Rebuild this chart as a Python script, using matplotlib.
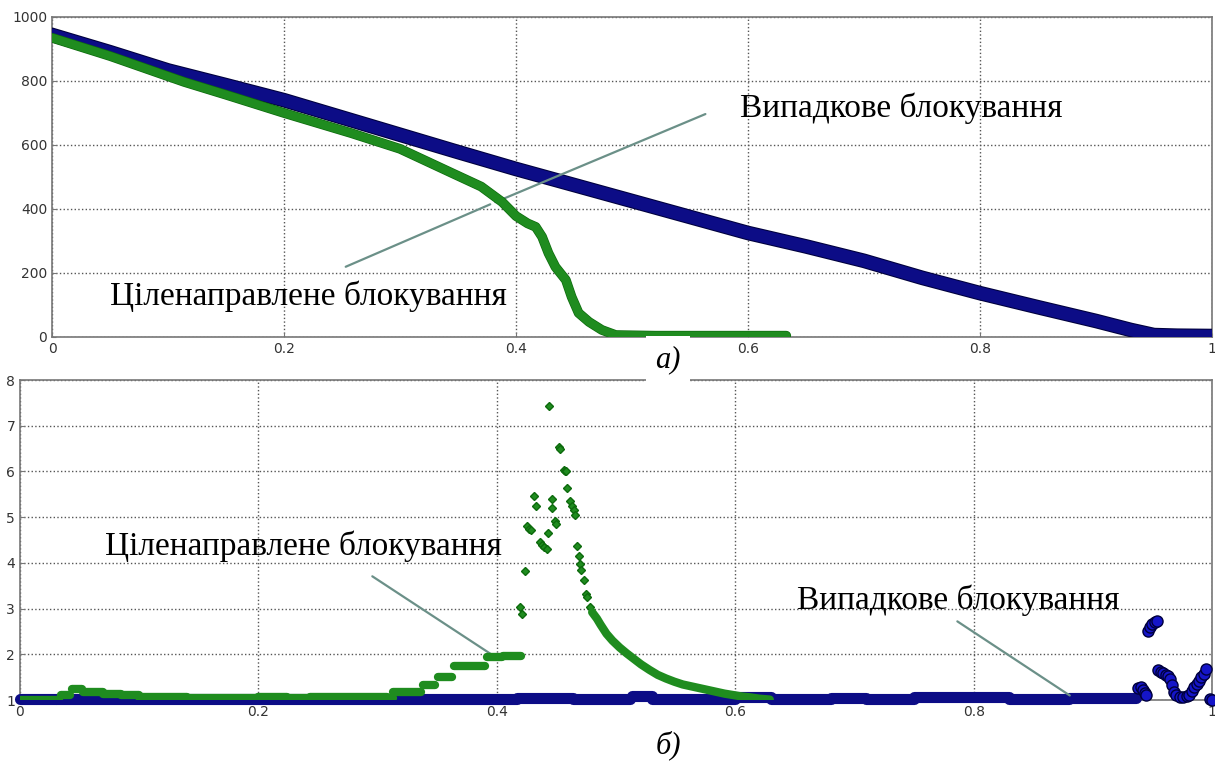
import matplotlib
matplotlib.use("Agg")
import matplotlib.pyplot as plt
import matplotlib.ticker as ticker
import matplotlib.patheffects as pe

# --- top panel (a): remaining size vs fraction of removed nodes ---
top_x_rand = [0.00, 0.05, 0.10, 0.15, 0.20, 0.25, 0.30, 0.35, 0.40, 0.45, 0.50, 0.55,
              0.60, 0.65, 0.70, 0.75, 0.80, 0.85, 0.90, 0.93, 0.95, 0.97, 1.00]
top_y_rand = [944, 890, 833, 787, 740, 686, 632, 578, 525, 475, 425, 375,
              325, 283, 238, 185, 137, 93, 50, 22, 6, 4, 3]

top_x_targ = [0.00, 0.05, 0.114, 0.15, 0.20, 0.258, 0.30, 0.345, 0.37, 0.388, 0.40, 0.41,
              0.417, 0.4225, 0.428, 0.434, 0.443, 0.448, 0.454, 0.463, 0.474, 0.486,
              0.52, 0.60, 0.633]
top_y_targ = [935, 878, 797, 757, 700, 637, 588, 512, 470, 422, 378, 355,
              344, 313, 262, 219, 178, 125, 75, 47, 22, 6,
              4, 4, 4]

# --- bottom panel (b) ---
# flat parts of the targeted series: (start, end, level)
bot_targ_x0 = [0.0, 0.034, 0.044, 0.053, 0.070, 0.085, 0.100, 0.140, 0.200, 0.224, 0.243,
               0.308, 0.313, 0.338, 0.351, 0.364, 0.392, 0.405]
bot_targ_x1 = [0.033, 0.042, 0.052, 0.070, 0.085, 0.100, 0.140, 0.200, 0.224, 0.243, 0.308,
               0.313, 0.336, 0.348, 0.362, 0.390, 0.404, 0.420]
bot_targ_lv = [1.01, 1.11, 1.24, 1.18, 1.13, 1.10, 1.07, 1.05, 1.07, 1.04, 1.07,
               1.04, 1.18, 1.33, 1.50, 1.75, 1.94, 1.97]

# burst of the targeted series
spike_x = [0.4195, 0.4215, 0.4235, 0.425, 0.427, 0.429, 0.431, 0.433, 0.436, 0.438, 0.440,
           0.442, 0.443, 0.444, 0.446, 0.4465, 0.449, 0.450, 0.452, 0.453, 0.456, 0.457,
           0.458, 0.459, 0.461, 0.463, 0.465, 0.466, 0.467, 0.469, 0.470, 0.471, 0.473,
           0.475, 0.476, 0.478]
spike_y = [3.03, 2.89, 3.83, 4.80, 4.75, 4.72, 5.46, 5.24, 4.45, 4.40, 4.35,
           4.30, 4.66, 7.43, 5.39, 5.20, 4.91, 4.85, 6.54, 6.50, 6.04, 6.00,
           6.02, 5.64, 5.35, 5.25, 5.15, 5.05, 4.37, 4.15, 3.97, 3.85, 3.62,
           3.32, 3.25, 3.03]

decay_x = [0.480, 0.484, 0.487, 0.492, 0.497, 0.503, 0.509, 0.515, 0.521, 0.528, 0.535,
           0.542, 0.549, 0.556, 0.563, 0.570, 0.577, 0.584, 0.591, 0.598, 0.605, 0.612,
           0.620, 0.629]
decay_y = [2.92, 2.78, 2.65, 2.45, 2.30, 2.15, 2.02, 1.90, 1.78, 1.66, 1.55,
           1.47, 1.40, 1.34, 1.30, 1.26, 1.22, 1.18, 1.14, 1.11, 1.08, 1.06,
           1.03, 1.01]

# flat parts of the random series
bot_rand_x0 = [0.0, 0.030, 0.417, 0.464, 0.513, 0.530, 0.600, 0.630, 0.680, 0.710, 0.750,
               0.830, 0.880]
bot_rand_x1 = [0.030, 0.417, 0.464, 0.512, 0.530, 0.600, 0.630, 0.680, 0.710, 0.750, 0.830,
               0.880, 0.936]
bot_rand_lv = [1.02, 1.03, 1.05, 1.03, 1.09, 1.03, 1.06, 1.03, 1.05, 1.03, 1.07,
               1.03, 1.04]

tail_x = [0.938, 0.940, 0.942, 0.944, 0.945, 0.946, 0.948, 0.950, 0.952, 0.954, 0.955,
          0.957, 0.959, 0.961, 0.963, 0.965, 0.966, 0.968, 0.970, 0.973, 0.976, 0.979,
          0.981, 0.983, 0.985, 0.987, 0.989, 0.991, 0.993, 0.995, 0.998, 1.0]
tail_y = [1.26, 1.28, 1.22, 1.15, 1.10, 2.52, 2.60, 2.66, 2.70, 2.73, 1.66,
          1.62, 1.60, 1.54, 1.52, 1.45, 1.33, 1.18, 1.10, 1.07, 1.06, 1.08,
          1.12, 1.20, 1.28, 1.35, 1.42, 1.50, 1.58, 1.68, 1.02, 1.00]

blue = "#0c0c86"
blue_edge = "#00003c"
green = "#1f8c1f"
green_edge = "#0d6a0d"
note_col = "#6b9088"
serif = ["Liberation Serif", "DejaVu Serif"]
edge_blue = [pe.Stroke(linewidth=10.5, foreground=blue_edge), pe.Normal()]
edge_green = [pe.Stroke(linewidth=7, foreground=green_edge), pe.Normal()]

fig = plt.figure(figsize=(12.15, 7.69), dpi=100)
ax1 = fig.add_axes([0.0428, 0.5618, 0.9547, 0.4161])
ax2 = fig.add_axes([0.01646, 0.0897, 0.9811, 0.4161])

for ax in (ax1, ax2):
    ax.grid(True, linestyle=":", color="#555555", linewidth=1.0)
    ax.set_axisbelow(True)
    for s in ax.spines.values():
        s.set_color("#777777")
        s.set_linewidth(1.2)
    ax.tick_params(labelsize=10, labelcolor="#333333", length=3, direction="in",
                   color="#777777")
    ax.set_xlim(0, 1)
    ax.set_xticks([0, 0.2, 0.4, 0.6, 0.8, 1.0])
    ax.xaxis.set_major_formatter(ticker.FuncFormatter(lambda v, p: "%g" % v))

# top panel
ax1.plot(top_x_rand, top_y_rand, color=blue, lw=9, solid_capstyle="round",
         path_effects=edge_blue, zorder=3)
ax1.plot(top_x_targ, top_y_targ, color=green, lw=6, solid_capstyle="round",
         path_effects=edge_green, zorder=4)
ax1.set_ylim(0, 1000)
ax1.set_yticks([0, 200, 400, 600, 800, 1000])

ax1.annotate("", xy=(0.38, 418), xytext=(0.5655, 700),
             arrowprops=dict(arrowstyle="-", color=note_col, lw=1.6))
ax1.annotate("", xy=(0.38, 418), xytext=(0.251, 216),
             arrowprops=dict(arrowstyle="-", color=note_col, lw=1.6))
ax1.text(0.593, 716, "Випадкове блокування", family=serif, fontsize=24,
         va="center", ha="left")
ax1.text(0.05, 128, "Ціленаправлене блокування", family=serif, fontsize=24,
         va="center", ha="left")

# bottom panel
ax2.hlines(bot_rand_lv, bot_rand_x0, bot_rand_x1, color=blue, lw=8,
           capstyle="round", clip_on=False, zorder=3)
ax2.plot(tail_x, tail_y, "o", ms=8, mfc="#1515c8", mec=blue_edge, clip_on=False, zorder=3)
ax2.hlines(bot_targ_lv, bot_targ_x0, bot_targ_x1, color=green, lw=6,
           capstyle="round", zorder=4)
ax2.plot(spike_x, spike_y, "D", ms=4.5, mfc=green, mec=green_edge, zorder=4)
ax2.plot(decay_x, decay_y, color=green, lw=6, solid_capstyle="round", zorder=4)
ax2.set_ylim(1, 8)
ax2.set_yticks([1, 2, 3, 4, 5, 6, 7, 8])

ax2.annotate("", xy=(0.400, 1.92), xytext=(0.2936, 3.74),
             arrowprops=dict(arrowstyle="-", color=note_col, lw=1.6))
ax2.annotate("", xy=(0.8826, 1.066), xytext=(0.7844, 2.754),
             arrowprops=dict(arrowstyle="-", color=note_col, lw=1.6))
ax2.text(0.0713, 4.355, "Ціленаправлене блокування", family=serif, fontsize=24,
         va="center", ha="left")
ax2.text(0.652, 3.19, "Випадкове блокування", family=serif, fontsize=24,
         va="center", ha="left")

fig.text(668 / 1215, 1 - 360 / 769, "а)", family=serif, fontsize=22, style="italic",
         ha="center", va="center",
         bbox=dict(facecolor="white", edgecolor="none", pad=7), zorder=5)
fig.text(668 / 1215, 1 - 745 / 769, "б)", family=serif, fontsize=22, style="italic",
         ha="center", va="center")

fig.savefig("out.png", dpi=100)
